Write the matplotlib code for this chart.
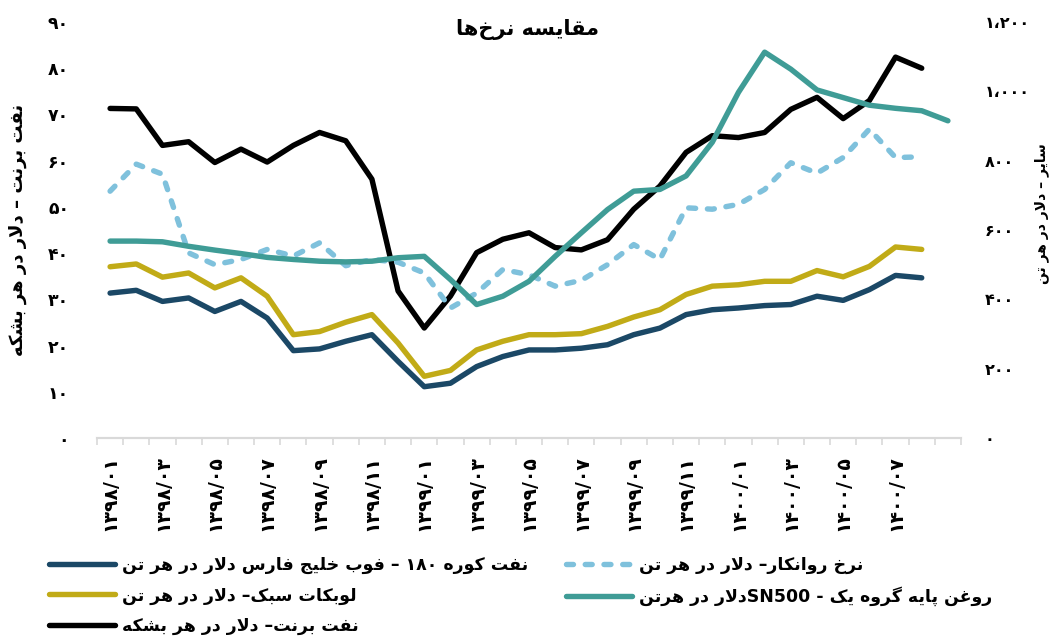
import matplotlib
matplotlib.use("Agg")
import matplotlib.pyplot as plt
import numpy as np

# ---------------- data ----------------
months = ["۱۳۹۸/۰۱", "۱۳۹۸/۰۲", "۱۳۹۸/۰۳", "۱۳۹۸/۰۴", "۱۳۹۸/۰۵", "۱۳۹۸/۰۶",
          "۱۳۹۸/۰۷", "۱۳۹۸/۰۸", "۱۳۹۸/۰۹", "۱۳۹۸/۱۰", "۱۳۹۸/۱۱", "۱۳۹۸/۱۲",
          "۱۳۹۹/۰۱", "۱۳۹۹/۰۲", "۱۳۹۹/۰۳", "۱۳۹۹/۰۴", "۱۳۹۹/۰۵", "۱۳۹۹/۰۶",
          "۱۳۹۹/۰۷", "۱۳۹۹/۰۸", "۱۳۹۹/۰۹", "۱۳۹۹/۱۰", "۱۳۹۹/۱۱", "۱۳۹۹/۱۲",
          "۱۴۰۰/۰۱", "۱۴۰۰/۰۲", "۱۴۰۰/۰۳", "۱۴۰۰/۰۴", "۱۴۰۰/۰۵", "۱۴۰۰/۰۶",
          "۱۴۰۰/۰۷", "۱۴۰۰/۰۸", "۱۴۰۰/۰۹"]

fuel_oil = [418, 426, 394, 404, 365, 394, 346, 252, 257, 279, 298, 221,
            148, 158, 206, 235, 254, 254, 259, 269, 298, 317, 356, 370,
            375, 382, 385, 409, 397, 428, 469, 462]
lubricant = [712, 790, 761, 534, 500, 515, 544, 525, 563, 497, 515, 507,
             476, 375, 418, 486, 471, 438, 455, 500, 558, 515, 664, 660,
             674, 717, 794, 764, 809, 891, 809, 811]
light_cut = [494, 502, 464, 476, 433, 462, 409, 298, 307, 334, 356, 274,
             178, 195, 254, 279, 298, 298, 301, 322, 349, 370, 414, 438,
             442, 452, 452, 483, 465, 495, 551, 544]
base_oil = [568, 568, 566, 553, 542, 532, 521, 515, 510, 508, 510, 520,
            524, 457, 385, 409, 452, 524, 592, 659, 712, 717, 756, 853,
            997, 1113, 1064, 1004, 982, 960, 951, 944, 915]
brent = [71.3, 71.2, 63.3, 64.1, 59.6, 62.5, 59.7, 63.3, 66.1, 64.3, 56.0, 31.8,
         23.8, 30.7, 40.1, 43.0, 44.4, 41.2, 40.7, 42.9, 49.5, 54.5, 61.8, 65.4,
         65.0, 66.1, 71.1, 73.7, 69.1, 73.0, 82.4, 80.0]

left_ticks = [0, 10, 20, 30, 40, 50, 60, 70, 80, 90]
left_tick_labels = ["۰", "۱۰", "۲۰", "۳۰", "۴۰", "۵۰", "۶۰", "۷۰", "۸۰", "۹۰"]
right_ticks = [0, 200, 400, 600, 800, 1000, 1200]
right_tick_labels = ["۰", "۲۰۰", "۴۰۰", "۶۰۰", "۸۰۰", "۱،۰۰۰", "۱،۲۰۰"]

title = "مقایسه نرخ\u200cها"
left_label = "نفت برنت – دلار در هر بشکه"
right_label = "سایر – دلار در هر تن"
names = {
    "fuel": "نفت کوره ۱۸۰ – فوب خلیج فارس دلار در هر تن",
    "lub": "نرخ روانکار– دلار در هر تن",
    "light": "لوبکات سبک– دلار در هر تن",
    "base": "روغن پایه گروه یک - SN500دلار در هرتن",
    "brent": "نفت برنت– دلار در هر بشکه",
}

# ---------------- simple Arabic/Persian shaping ----------------
FORMS = {
    'ا': ('\uFE8D', '\uFE8E', None, None),
    'ب': ('\uFE8F', '\uFE90', '\uFE91', '\uFE92'),
    'ت': ('\uFE95', '\uFE96', '\uFE97', '\uFE98'),
    'ج': ('\uFE9D', '\uFE9E', '\uFE9F', '\uFEA0'),
    'خ': ('\uFEA5', '\uFEA6', '\uFEA7', '\uFEA8'),
    'د': ('\uFEA9', '\uFEAA', None, None),
    'ر': ('\uFEAD', '\uFEAE', None, None),
    'ز': ('\uFEAF', '\uFEB0', None, None),
    'س': ('\uFEB1', '\uFEB2', '\uFEB3', '\uFEB4'),
    'ش': ('\uFEB5', '\uFEB6', '\uFEB7', '\uFEB8'),
    'غ': ('\uFECD', '\uFECE', '\uFECF', '\uFED0'),
    'ف': ('\uFED1', '\uFED2', '\uFED3', '\uFED4'),
    'ق': ('\uFED5', '\uFED6', '\uFED7', '\uFED8'),
    'ل': ('\uFEDD', '\uFEDE', '\uFEDF', '\uFEE0'),
    'م': ('\uFEE1', '\uFEE2', '\uFEE3', '\uFEE4'),
    'ن': ('\uFEE5', '\uFEE6', '\uFEE7', '\uFEE8'),
    'ه': ('\uFEE9', '\uFEEA', '\uFEEB', '\uFEEC'),
    'و': ('\uFEED', '\uFEEE', None, None),
    'ی': ('\uFBFC', '\uFBFD', '\uFBFE', '\uFBFF'),
    'ک': ('\uFB8E', '\uFB8F', '\uFB90', '\uFB91'),
    'گ': ('\uFB92', '\uFB93', '\uFB94', '\uFB95'),
    'پ': ('\uFB56', '\uFB57', '\uFB58', '\uFB59'),
}


def _is_ar(c):
    return c in FORMS


def _dual(c):
    return c in FORMS and FORMS[c][2] is not None


def shape(text):
    out = []
    n = len(text)
    i = 0
    while i < n:
        c = text[i]
        if c == '\u200c':
            i += 1
            continue
        if not _is_ar(c):
            out.append(c)
            i += 1
            continue
        prev = text[i - 1] if i > 0 else None
        jp = prev is not None and _dual(prev)
        if c == 'ل' and i + 1 < n and text[i + 1] == 'ا':
            out.append('\uFEFC' if jp else '\uFEFB')
            i += 2
            continue
        nxt = text[i + 1] if i + 1 < n else None
        jn = _dual(c) and nxt is not None and _is_ar(nxt)
        iso, fin, ini, med = FORMS[c]
        if jp and jn:
            out.append(med)
        elif jp:
            out.append(fin)
        elif jn:
            out.append(ini)
        else:
            out.append(iso)
        i += 1
    return ''.join(out)


def _ltr(ch):
    return (ch.isascii() and ch.isalnum()) or ('\u06F0' <= ch <= '\u06F9')


def fa(text):
    s = shape(text)
    runs = []
    for ch in s:
        l = _ltr(ch)
        if runs and runs[-1][0] == l:
            runs[-1][1].append(ch)
        else:
            runs.append((l, [ch]))
    parts = []
    for l, chs in reversed(runs):
        parts.append(''.join(chs) if l else ''.join(reversed(chs)))
    return ''.join(parts)


# ---------------- plot ----------------
plt.rcParams['font.family'] = ['DejaVu Sans']
plt.rcParams['lines.scale_dashes'] = False

C_FUEL = '#1b4866'
C_LUB = '#7fc1dc'
C_LIGHT = '#c1ab17'
C_BASE = '#3f9c96'
C_BRENT = '#000000'

fig = plt.figure(figsize=(10.58, 6.36), dpi=100)
ax = fig.add_axes([97 / 1058, 1 - 438 / 636, 864 / 1058, 416 / 636])
ax2 = ax.twinx()

LW = 3.9
x_all = np.arange(len(months))

l_brent, = ax.plot(x_all[:len(brent)], brent, color=C_BRENT, lw=LW,
                   solid_joinstyle='round', solid_capstyle='round')
l_fuel, = ax2.plot(x_all[:len(fuel_oil)], fuel_oil, color=C_FUEL, lw=LW,
                   solid_joinstyle='round', solid_capstyle='round')
l_light, = ax2.plot(x_all[:len(light_cut)], light_cut, color=C_LIGHT, lw=LW,
                    solid_joinstyle='round', solid_capstyle='round')
l_lub, = ax2.plot(x_all[:len(lubricant)], lubricant, color=C_LUB, lw=LW,
                  linestyle=(0, (5, 8.5)), dash_capstyle='round',
                  dash_joinstyle='round')
l_base, = ax2.plot(x_all[:len(base_oil)], base_oil, color=C_BASE, lw=LW,
                   solid_joinstyle='round', solid_capstyle='round')

ax.set_xlim(-0.5, len(months) - 0.5)
ax.set_ylim(0, 90)
ax2.set_ylim(0, 1200)

for a in (ax, ax2):
    for s in ('top', 'left', 'right'):
        a.spines[s].set_visible(False)
    a.spines['bottom'].set_color('#d9d9d9')
    a.spines['bottom'].set_linewidth(1.5)

# x ticks: boundaries as major (marks), labels as minor
ax.set_xticks(np.arange(-0.5, len(months) + 0.5, 1.0))
ax.set_xticklabels([])
ax.tick_params(axis='x', which='major', length=5, width=1.2, color='#d9d9d9')
ax.set_xticks(x_all[0:31:2], minor=True)
ax.set_xticklabels([months[i] for i in range(0, 31, 2)], minor=True,
                   rotation=90, fontsize=13.5, fontweight='bold')
ax.tick_params(axis='x', which='minor', length=0, pad=12)

ax.set_yticks(left_ticks)
ax.set_yticklabels(left_tick_labels, fontsize=12.5, fontweight='bold')
ax.tick_params(axis='y', length=0, pad=20)
ax2.set_yticks(right_ticks)
ax2.set_yticklabels(right_tick_labels, fontsize=11.5, fontweight='bold')
ax2.tick_params(axis='y', length=0, pad=17)

fig.text(18 / 1058, 1 - 230 / 636, fa(left_label), rotation=90, ha='center',
         va='center', fontsize=13, fontweight='bold')
fig.text(1042 / 1058, 1 - 214 / 636, fa(right_label), rotation=90, ha='center',
         va='center', fontsize=10, fontweight='bold')

fig.text(528 / 1058, 1 - 30 / 636, fa(title), ha='center', va='center',
         fontsize=15, fontweight='bold')

handles = [l_fuel, l_light, l_brent, l_lub, l_base]
labels = [fa(names['fuel']), fa(names['light']), fa(names['brent']),
          fa(names['lub']), fa(names['base'])]
leg = fig.legend(handles, labels, ncol=2, loc='upper left',
                 bbox_to_anchor=(42 / 1058, 1 - 549 / 636), frameon=False,
                 prop={'size': 12.5, 'weight': 'bold'}, handlelength=3.8,
                 handletextpad=0.4, columnspacing=2.2, labelspacing=0.72,
                 borderaxespad=0)

fig.savefig('out.png', dpi=100)
